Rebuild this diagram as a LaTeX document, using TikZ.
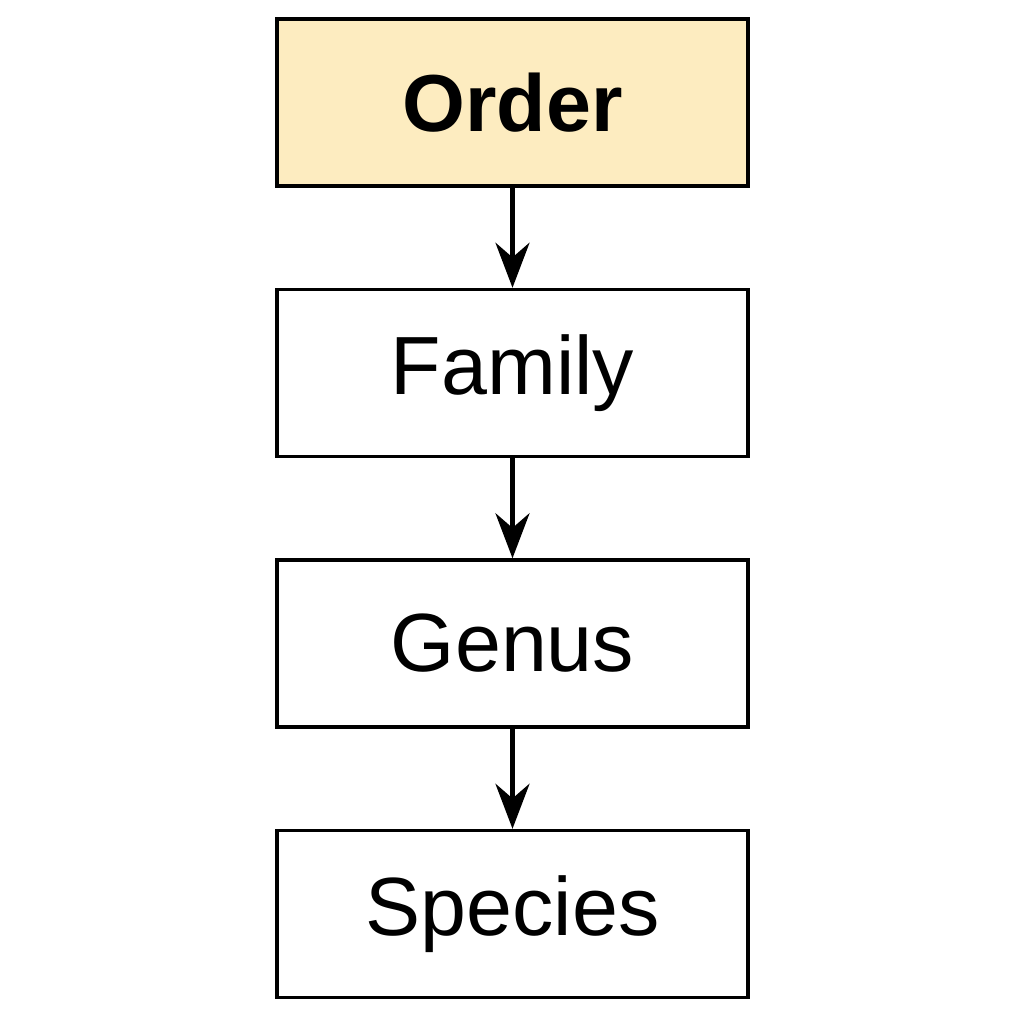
\documentclass[tikz,border=0pt]{standalone}
\usepackage{fontspec}
\setmainfont{Liberation Sans}
\usepackage{xcolor}
\usetikzlibrary{arrows.meta,positioning}

\definecolor{orderfill}{RGB}{253,236,192}

\begin{document}
\begin{tikzpicture}[
    node distance=1.0cm,
    rank/.style={draw=black, line width=1pt, minimum width=4.71cm, minimum height=1.67cm,
                 align=center, fill=white, font=\fontsize{23.5}{28}\selectfont},
    link/.style={-{Stealth[length=4.5mm, width=3.4mm]}, line width=1.3pt, black}
]
\useasboundingbox (0,0) rectangle (10.24,-10.24);

% Ranks
\node[rank, fill=orderfill, font=\fontsize{23}{28}\selectfont\bfseries] (order) at (5.125,-1.025) {Order};
\node[rank, below=of order] (family) {Family};
\node[rank, below=of family] (genus) {Genus};
\node[rank, below=of genus] (species) {Species};

% Links
\draw[link] (order) -- (family);
\draw[link] (family) -- (genus);
\draw[link] (genus) -- (species);

\end{tikzpicture}
\end{document}
